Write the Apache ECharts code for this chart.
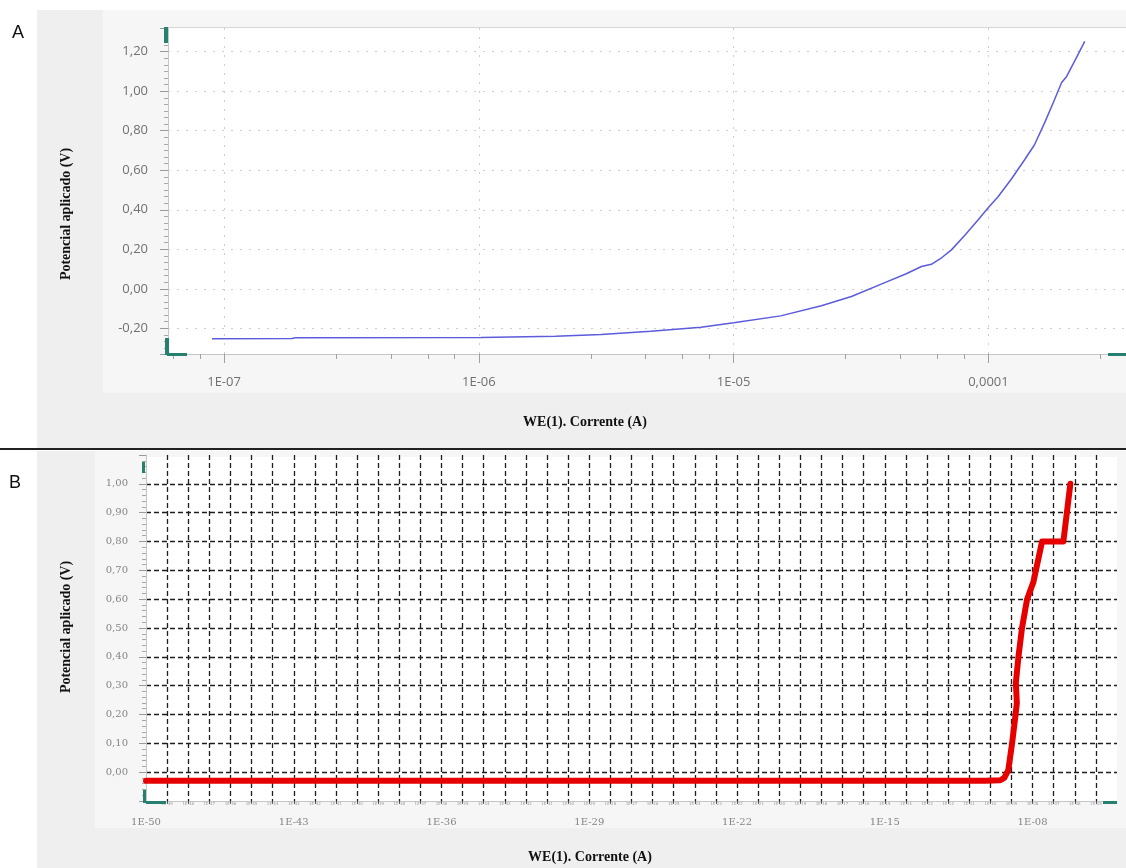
<!DOCTYPE html>
<html>
<head>
<meta charset="utf-8">
<script src="https://cdn.jsdelivr.net/npm/echarts@6/dist/echarts.min.js"></script>
<style>
html,body{margin:0;padding:0;background:#ffffff;}
#chart{width:1126px;height:868px;}
</style>
</head>
<body>
<div id="chart"></div>
<script>
// ---------- Panel A data (current in A, potential in V) ----------
const currentA = [8.97e-8, 1.85e-7, 1.90e-7, 1.02e-6, 2.0e-6, 3.02e-6, 4.73e-6, 7.45e-6, 1.0e-5, 1.53e-5, 2.21e-5,
  2.90e-5, 3.90e-5, 4.76e-5, 5.46e-5, 5.97e-5, 6.55e-5, 7.16e-5, 8.05e-5, 9.12e-5, 9.98e-5, 1.093e-4,
  1.233e-4, 1.387e-4, 1.517e-4, 1.663e-4, 1.803e-4, 1.936e-4, 2.028e-4, 2.218e-4, 2.388e-4];
const potentialA = [-0.253, -0.251, -0.248, -0.246, -0.240, -0.231, -0.215, -0.195, -0.172, -0.137, -0.086,
  -0.039, 0.030, 0.076, 0.113, 0.124, 0.157, 0.197, 0.268, 0.349, 0.410, 0.467,
  0.557, 0.653, 0.729, 0.841, 0.947, 1.043, 1.075, 1.171, 1.252];

// ---------- Panel B data ----------
const currentB = [1e-50, 5.75e-11, 2.95e-10, 4.57e-10, 7.08e-10, 1.07e-9, 1.51e-9, 1.80e-9, 1.62e-9, 2.14e-9,
  3.16e-9, 5.5e-9, 1.10e-8, 2.82e-8, 2.88e-7, 6.17e-7];
const potentialB = [-0.03, -0.03, -0.028, -0.02, 0.007, 0.10, 0.19, 0.24, 0.31, 0.40,
  0.50, 0.60, 0.66, 0.80, 0.80, 1.00];

// ---------- Tick labels ----------
const xTickExpA = [-7, -6, -5, -4];
const xTickLabelsA = ['1E-07', '1E-06', '1E-05', '0,0001'];
const minorFractionsA = [0.44, 0.655, 0.80, 0.905];
const yTickValsA = [-0.2, 0, 0.2, 0.4, 0.6, 0.8, 1.0, 1.2];
const yTickLabelsA = ['-0,20', '0,00', '0,20', '0,40', '0,60', '0,80', '1,00', '1,20'];

const xTickExpB = [-50, -43, -36, -29, -22, -15, -8];
const xTickLabelsB = ['1E-50', '1E-43', '1E-36', '1E-29', '1E-22', '1E-15', '1E-08'];
const yTickValsB = [0, 0.1, 0.2, 0.3, 0.4, 0.5, 0.6, 0.7, 0.8, 0.9, 1.0];
const yTickLabelsB = ['0,00', '0,10', '0,20', '0,30', '0,40', '0,50', '0,60', '0,70', '0,80', '0,90', '1,00'];

// ---------- build ----------
const lg = v => Math.log10(v);
const dataA = currentA.map((c, i) => [lg(c), potentialA[i]]);
const dataB = currentB.map((c, i) => [lg(c), potentialB[i]]);

function lookup(vals, labels, v) {
  for (let i = 0; i < vals.length; i++) if (Math.abs(vals[i] - v) < 1e-6) return labels[i];
  return '';
}
const minorTicksA = [];
[-8, -7, -6, -5, -4].forEach(d => minorFractionsA.forEach(f => {
  const v = d + f; if (v > -7.22 && v < -3.46) minorTicksA.push(v);
}));
function tinyLabelB(v) {
  if (v <= -50 || v >= -4) return '';
  const e = Math.round(-v);
  return '1E-' + (e < 10 ? '0' + e : e);
}

const gridLineA = {color: '#cdcdcd', type: [2, 7], width: 1};
const gridLineB = {color: '#1e1e1e', type: [5, 3], width: 1.3};
const labelA = {color: '#707070', fontFamily: 'Open Sans', fontSize: 13};
const labelB = {color: '#858585', fontFamily: 'DejaVu Serif', fontSize: 10};
const teal = '#25806f';

const chart = echarts.init(document.getElementById('chart'));
chart.setOption({
  animation: false,
  grid: [
    {left: 168, top: 28, width: 958, height: 326},
    {left: 146, top: 455, width: 971, height: 346}
  ],
  xAxis: [
    { // A main
      gridIndex: 0, type: 'value', min: -7.22, max: -3.46, splitNumber: 4,
      axisLine: {show: true, onZero: false, lineStyle: {color: '#c6c6c6', width: 1}},
      axisTick: {show: true, length: 9, lineStyle: {color: '#a0a0a0'}},
      axisLabel: Object.assign({margin: 22, showMinLabel: false, showMaxLabel: false,
        formatter: v => lookup(xTickExpA, xTickLabelsA, v)}, labelA),
      splitLine: {show: true, showMinLine: false, showMaxLine: false, lineStyle: gridLineA}
    },
    { // A minor ticks
      gridIndex: 0, type: 'value', min: -7.22, max: -3.46, position: 'bottom',
      axisLine: {show: false, onZero: false}, axisLabel: {show: false}, splitLine: {show: false},
      axisTick: {show: true, length: 5, customValues: minorTicksA, lineStyle: {color: '#a0a0a0'}}
    },
    { // B main
      gridIndex: 1, type: 'value', min: -50, max: -4, interval: 1,
      axisLine: {show: true, onZero: false, lineStyle: {color: '#c6c6c6', width: 1}},
      axisTick: {show: true, length: 3, lineStyle: {color: '#555'}},
      axisLabel: Object.assign({margin: 16, showMinLabel: true, showMaxLabel: false,
        formatter: v => lookup(xTickExpB, xTickLabelsB, v)}, labelB),
      splitLine: {show: true, showMinLine: false, showMaxLine: false, lineStyle: gridLineB}
    },
    { // B tiny labels
      gridIndex: 1, type: 'value', min: -50, max: -4, interval: 1, position: 'bottom',
      axisLine: {show: false, onZero: false}, axisTick: {show: false}, splitLine: {show: false},
      axisLabel: {margin: 1, fontSize: 4, color: '#9a9a9a', fontFamily: 'DejaVu Sans', formatter: tinyLabelB}
    }
  ],
  yAxis: [
    {
      gridIndex: 0, type: 'value', min: -0.33, max: 1.32, splitNumber: 8,
      axisLine: {show: true, onZero: false, lineStyle: {color: '#c6c6c6', width: 1}},
      axisTick: {show: true, length: 8, lineStyle: {color: '#9a9a9a'}},
      minorTick: {show: true, splitNumber: 6, length: 4, lineStyle: {color: '#a8a8a8'}},
      axisLabel: Object.assign({margin: 20, showMinLabel: false, showMaxLabel: false,
        formatter: v => lookup(yTickValsA, yTickLabelsA, v)}, labelA),
      splitLine: {show: true, showMinLine: false, showMaxLine: false, lineStyle: gridLineA}
    },
    {
      gridIndex: 1, type: 'value', min: -0.1, max: 1.1, interval: 0.1,
      axisLine: {show: true, onZero: false, lineStyle: {color: '#c6c6c6', width: 1}},
      axisTick: {show: true, length: 7, lineStyle: {color: '#9a9a9a'}},
      minorTick: {show: true, splitNumber: 5, length: 4, lineStyle: {color: '#a8a8a8'}},
      axisLabel: Object.assign({margin: 18, showMinLabel: false, showMaxLabel: false,
        formatter: v => lookup(yTickValsB, yTickLabelsB, v)}, labelB),
      splitLine: {show: true, showMinLine: false, showMaxLine: false, lineStyle: gridLineB}
    }
  ],
  series: [
    {
      type: 'line', xAxisIndex: 0, yAxisIndex: 0, data: dataA, showSymbol: false, smooth: false,
      lineStyle: {color: '#5b5bdc', width: 1.5}, z: 5
    },
    {
      type: 'line', xAxisIndex: 2, yAxisIndex: 1, data: dataB, showSymbol: false, smooth: false,
      lineStyle: {color: '#e60000', width: 6, cap: 'round', join: 'round'}, z: 5
    }
  ],
  graphic: [
    // backgrounds
    {type: 'rect', z: -20, shape: {x: 37, y: 10, width: 1089, height: 438}, style: {fill: '#efefef'}},
    {type: 'rect', z: -19, shape: {x: 103, y: 10, width: 1023, height: 383}, style: {fill: '#f6f6f6'}},
    {type: 'rect', z: -18, shape: {x: 168, y: 28, width: 958, height: 326}, style: {fill: '#ffffff'}},
    {type: 'line', z: -17, shape: {x1: 168, y1: 27.5, x2: 1126, y2: 27.5}, style: {stroke: '#d6d6d6', lineWidth: 1}},
    {type: 'rect', z: -20, shape: {x: 37, y: 451, width: 1089, height: 417}, style: {fill: '#efefef'}},
    {type: 'rect', z: -19, shape: {x: 95, y: 451, width: 1031, height: 377}, style: {fill: '#f6f6f6'}},
    {type: 'rect', z: -18, shape: {x: 146, y: 457, width: 971, height: 344}, style: {fill: '#ffffff'}},
    // separator
    {type: 'line', z: 50, shape: {x1: 0, y1: 449, x2: 1126, y2: 449}, style: {stroke: '#222', lineWidth: 2}},
    // panel letters
    {type: 'text', z: 50, x: 18, y: 33, style: {text: 'A', font: '18px "Liberation Sans"', fill: '#111', align: 'center', verticalAlign: 'middle'}},
    {type: 'text', z: 50, x: 15, y: 483, style: {text: 'B', font: '18px "Liberation Sans"', fill: '#111', align: 'center', verticalAlign: 'middle'}},
    // axis titles
    {type: 'text', z: 50, x: 585, y: 422, style: {text: 'WE(1). Corrente (A)', font: 'bold 14px "Liberation Serif"', fill: '#111', align: 'center', verticalAlign: 'middle'}},
    {type: 'text', z: 50, x: 66, y: 214, rotation: Math.PI / 2, style: {text: 'Potencial aplicado (V)', font: 'bold 14px "Liberation Serif"', fill: '#111', align: 'center', verticalAlign: 'middle'}},
    {type: 'text', z: 50, x: 590, y: 857, style: {text: 'WE(1). Corrente (A)', font: 'bold 14px "Liberation Serif"', fill: '#111', align: 'center', verticalAlign: 'middle'}},
    {type: 'text', z: 50, x: 66, y: 627, rotation: Math.PI / 2, style: {text: 'Potencial aplicado (V)', font: 'bold 14px "Liberation Serif"', fill: '#111', align: 'center', verticalAlign: 'middle'}},
    // teal axis end marks, panel A
    {type: 'rect', z: 60, shape: {x: 164, y: 27, width: 4, height: 16}, style: {fill: teal}},
    {type: 'rect', z: 60, shape: {x: 165, y: 338, width: 4, height: 17}, style: {fill: teal}},
    {type: 'rect', z: 60, shape: {x: 167, y: 353, width: 20, height: 3}, style: {fill: teal}},
    {type: 'rect', z: 60, shape: {x: 1108, y: 353, width: 18, height: 3}, style: {fill: teal}},
    // teal axis end marks, panel B
    {type: 'rect', z: 60, shape: {x: 142, y: 462, width: 3, height: 11}, style: {fill: teal}},
    {type: 'rect', z: 60, shape: {x: 143, y: 790, width: 3, height: 13}, style: {fill: teal}},
    {type: 'rect', z: 60, shape: {x: 146, y: 801, width: 20, height: 3}, style: {fill: teal}},
    {type: 'rect', z: 60, shape: {x: 1103, y: 801, width: 14, height: 3}, style: {fill: teal}}
  ]
});
</script>
</body>
</html>
